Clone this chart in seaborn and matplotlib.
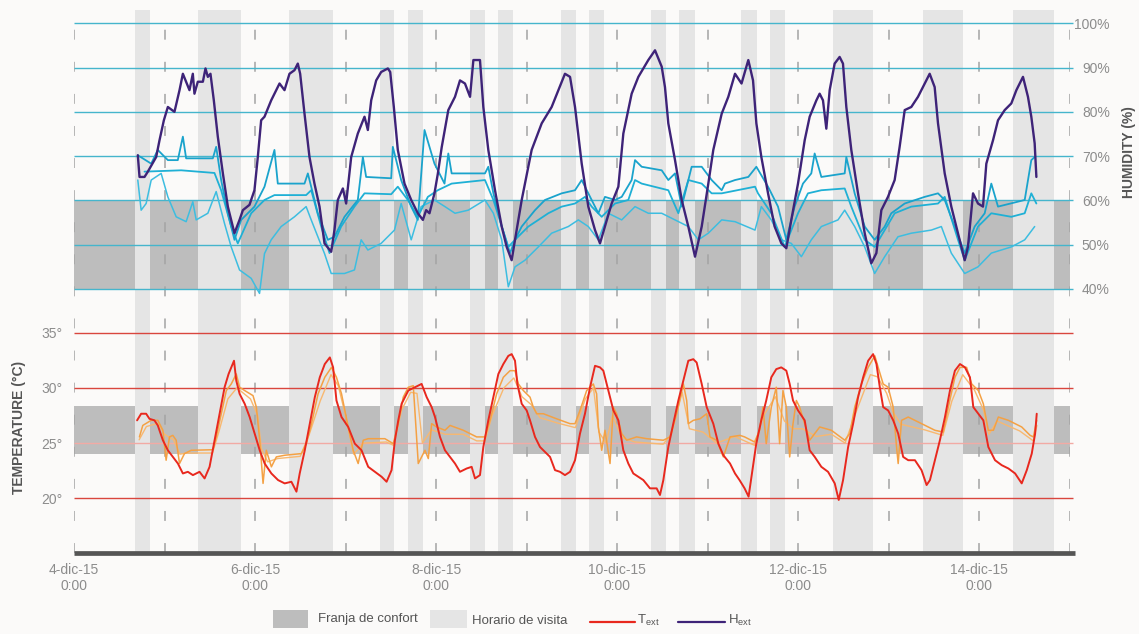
import matplotlib
matplotlib.use("Agg")
import matplotlib.pyplot as plt
import seaborn as sns
from matplotlib.patches import Rectangle
from matplotlib.lines import Line2D

# ---------------- data (x = days after 4-dic-15 0:00) ----------------
day_ticks = [0, 2, 4, 6, 8, 10]
day_tick_labels = ["4-dic-15\n0:00", "6-dic-15\n0:00", "8-dic-15\n0:00",
                   "10-dic-15\n0:00", "12-dic-15\n0:00", "14-dic-15\n0:00"]
day_lines = [0, 1, 2, 3, 4, 5, 6, 7, 8, 9, 10, 11]
temp_ticks = [20, 25, 30, 35]
hum_ticks = [40, 50, 60, 70, 80, 90, 100]

visit_start = [0.674, 1.373, 2.376, 3.381, 3.694, 4.376, 4.688, 5.381, 5.694,
               6.376, 6.688, 7.370, 7.691, 8.383, 9.378, 10.379]
visit_end = [0.840, 1.842, 2.865, 3.539, 3.860, 4.541, 4.854, 5.547, 5.860,
             6.541, 6.862, 7.543, 7.856, 8.832, 9.827, 10.829]
comfort_temp = [24.0, 28.35]
comfort_hum = [40, 60]

hext_t = [0.705,0.724,0.779,0.816,0.908,0.945,0.993,1.037,1.110,1.166,
          1.203,1.276,1.313,1.331,1.368,1.424,1.453,1.479,1.508,1.545,
          1.589,1.645,1.700,1.773,1.829,1.866,1.939,1.994,2.031,2.068,
          2.105,2.179,2.271,2.326,2.381,2.436,2.473,2.499,2.547,2.602,
          2.657,2.713,2.768,2.842,2.878,2.915,2.971,3.007,3.063,3.136,
          3.210,3.247,3.284,3.339,3.394,3.468,3.494,3.534,3.578,3.652,
          3.726,3.799,3.855,3.891,3.928,3.983,4.020,4.063,4.136,4.210,
          4.265,4.320,4.376,4.413,4.486,4.523,4.578,4.652,4.726,4.781,
          4.836,4.873,4.947,5.057,5.168,5.278,5.352,5.425,5.481,5.536,
          5.610,5.683,5.757,5.812,5.867,5.941,6.015,6.070,6.162,6.236,
          6.346,6.420,6.494,6.530,6.567,6.641,6.715,6.788,6.862,6.936,
          7.009,7.064,7.157,7.230,7.304,7.376,7.451,7.503,7.540,7.595,
          7.669,7.742,7.816,7.871,7.926,8.000,8.074,8.129,8.203,8.239,
          8.276,8.313,8.350,8.405,8.460,8.497,8.534,8.589,8.663,8.737,
          8.810,8.866,8.921,8.994,9.068,9.123,9.179,9.252,9.326,9.400,
          9.455,9.510,9.547,9.621,9.694,9.768,9.842,9.878,9.934,9.989,
          10.044,10.081,10.155,10.210,10.284,10.357,10.413,10.486,10.541,10.578,
          10.615,10.634]
hext_v = [70.2,65.3,65.3,66.5,69.8,73.6,78.1,81.1,80.0,84.9,
          88.6,84.9,88.6,84.1,86.8,86.8,89.8,87.9,88.6,82.6,
          74.4,66.1,58.6,52.6,55.6,57.8,59.0,62.3,69.8,78.1,
          78.9,82.6,86.4,84.9,88.6,89.4,90.9,88.6,79.6,69.8,
          63.8,58.6,50.3,48.4,53.3,60.1,62.7,59.3,69.8,75.1,
          78.9,75.9,82.6,87.1,89.0,89.8,89.0,81.1,71.4,63.8,
          60.1,57.1,55.6,57.8,57.1,61.6,66.0,72.0,80.4,83.4,
          87.1,86.4,83.4,91.7,91.7,81.1,71.4,62.3,54.1,49.5,
          46.5,51.1,60.1,71.4,77.4,81.1,84.9,88.6,87.9,81.1,
          68.3,58.6,53.3,50.3,54.1,59.3,63.1,75.1,84.1,87.9,
          91.7,93.9,90.2,85.6,77.4,69.1,60.1,54.1,47.3,54.1,
          63.8,71.4,79.6,83.4,88.6,86.4,91.7,87.1,77.4,69.8,
          61.6,54.1,50.3,49.2,55.6,63.8,73.6,78.9,82.6,84.1,
          82.6,76.2,84.9,90.9,92.4,90.9,81.1,71.4,61.6,52.6,
          45.8,48.1,57.8,60.8,64.6,72.1,80.4,81.1,83.4,86.4,
          88.6,85.6,77.4,66.1,58.6,52.6,46.5,49.5,61.6,59.3,
          58.6,68.3,73.6,78.1,80.4,81.9,84.9,87.9,83.4,78.9,
          72.9,65.3]

c1_t = [0.705,0.853,0.926,1.037,1.147,1.203,1.239,1.534,1.571,1.626,
        1.700,1.773,1.847,1.994,2.105,2.215,2.252,2.547,2.584,2.694,
        2.805,2.878,2.989,3.136,3.192,3.228,3.505,3.523,3.615,3.726,
        3.799,3.873,3.983,4.094,4.136,4.173,4.541,4.578,4.634,4.726,
        4.818,4.873,4.947,5.094,5.204,5.389,5.536,5.610,5.683,5.794,
        5.867,5.978,6.052,6.162,6.199,6.273,6.494,6.567,6.641,6.715,
        6.825,6.936,7.046,7.157,7.193,7.304,7.451,7.540,7.669,7.779,
        7.871,7.963,8.055,8.147,8.184,8.258,8.516,8.534,8.626,8.737,
        8.847,8.958,9.031,9.179,9.400,9.547,9.621,9.731,9.842,9.952,
        10.063,10.136,10.210,10.505,10.578,10.615]
c1_v = [70.2,68.3,71.4,69.1,69.1,74.4,69.5,69.5,72.1,64.6,
        57.1,51.1,55.6,58.6,63.1,71.4,63.8,63.8,66.1,57.1,
        51.1,51.8,56.3,60.1,69.8,65.3,65.0,72.1,64.6,58.6,
        55.6,75.9,68.3,63.8,70.6,66.1,66.1,67.6,61.6,54.1,
        48.1,51.1,54.1,57.8,60.1,61.6,62.3,64.6,61.6,57.1,
        60.8,60.1,60.8,64.6,69.1,67.6,66.8,64.6,66.1,58.6,
        67.6,67.6,64.6,62.3,63.8,64.6,65.3,67.6,63.1,58.6,
        51.1,58.6,63.8,66.1,70.6,65.3,66.1,69.8,61.6,54.1,
        51.1,54.1,57.1,59.3,60.8,61.6,60.1,54.1,48.1,54.1,
        57.1,63.8,58.6,60.1,69.1,69.8]

c2_t = [0.779,1.184,1.552,1.626,1.737,1.810,1.958,2.105,2.215,2.565,
        2.621,2.731,2.823,2.952,3.099,3.210,3.505,3.578,3.689,3.799,
        3.910,4.020,4.173,4.541,4.634,4.799,4.873,5.020,5.131,5.241,
        5.389,5.536,5.646,5.720,5.831,5.978,6.125,6.199,6.273,6.567,
        6.678,6.788,6.936,7.046,7.157,7.525,7.558,7.705,7.853,8.000,
        8.110,8.258,8.516,8.589,8.737,8.847,8.958,9.068,9.252,9.547,
        9.621,9.768,9.842,9.989,10.136,10.357,10.505,10.578,10.634]
c2_v = [66.5,66.8,66.2,62.3,54.1,50.3,57.1,60.1,61.2,61.2,
        62.3,54.1,48.1,54.1,58.6,61.6,61.4,63.1,60.1,56.3,
        60.8,62.3,63.8,64.6,60.1,49.5,51.1,54.1,55.6,57.1,
        58.6,59.3,60.8,58.6,56.3,59.3,60.1,64.6,63.8,62.3,
        57.1,64.6,63.8,61.6,61.6,63.1,61.6,57.1,49.5,57.1,
        61.6,62.3,62.7,58.6,51.1,49.5,53.3,57.1,58.6,59.3,
        60.8,51.1,46.5,54.1,57.1,56.3,57.1,61.6,59.3]

c3_t = [0.705,0.742,0.797,0.853,0.963,1.037,1.129,1.239,1.313,1.350,
        1.479,1.571,1.663,1.737,1.829,1.958,2.050,2.105,2.179,2.289,
        2.436,2.565,2.621,2.768,2.842,2.989,3.099,3.173,3.247,3.394,
        3.541,3.615,3.726,3.836,3.983,4.099,4.210,4.357,4.541,4.634,
        4.726,4.799,4.873,4.983,5.131,5.278,5.462,5.573,5.683,5.794,
        5.904,6.052,6.199,6.346,6.494,6.641,6.788,6.899,7.009,7.157,
        7.304,7.525,7.595,7.705,7.816,7.926,8.037,8.147,8.258,8.442,
        8.516,8.626,8.737,8.847,8.958,9.105,9.252,9.473,9.584,9.694,
        9.842,9.989,10.136,10.357,10.505,10.615]
c3_v = [64.6,57.8,59.3,64.6,66.1,60.8,56.3,55.2,59.7,55.6,
        57.1,62.0,54.8,49.5,44.3,42.4,39.0,48.0,51.1,54.1,
        56.3,58.6,55.6,48.0,43.5,43.5,44.3,51.1,48.8,50.3,
        53.3,59.3,51.1,58.6,60.1,58.6,57.1,57.8,60.1,57.1,
        51.1,40.5,45.0,46.5,49.5,52.6,54.1,55.6,54.1,51.1,
        57.1,55.6,58.6,57.1,57.1,55.6,54.1,51.1,52.6,55.6,
        55.2,53.3,58.6,55.6,51.1,50.3,47.3,51.1,54.1,55.6,
        57.8,54.1,49.5,43.5,47.3,51.8,52.6,53.3,54.1,48.1,
        43.5,45.0,48.1,49.5,51.1,54.1]

text_t = [0.697,0.742,0.797,0.834,0.889,0.926,0.982,1.037,1.092,1.148,
          1.203,1.258,1.314,1.387,1.443,1.498,1.554,1.609,1.664,1.708,
          1.738,1.768,1.793,1.830,1.886,1.941,1.996,2.052,2.107,2.181,
          2.255,2.328,2.402,2.458,2.494,2.550,2.605,2.661,2.716,2.771,
          2.827,2.863,2.900,2.956,3.030,3.103,3.177,3.251,3.325,3.399,
          3.454,3.509,3.546,3.583,3.620,3.694,3.768,3.841,3.897,3.952,
          3.989,4.044,4.099,4.155,4.210,4.265,4.339,4.394,4.431,4.486,
          4.523,4.578,4.634,4.689,4.744,4.799,4.836,4.873,4.899,4.947,
          5.002,5.039,5.094,5.149,5.204,5.260,5.315,5.370,5.425,5.481,
          5.536,5.591,5.646,5.702,5.757,5.812,5.849,5.904,5.960,6.015,
          6.070,6.125,6.180,6.236,6.291,6.365,6.438,6.475,6.512,6.567,
          6.622,6.678,6.733,6.788,6.843,6.880,6.936,6.991,7.064,7.120,
          7.175,7.249,7.304,7.354,7.410,7.454,7.502,7.539,7.594,7.649,
          7.705,7.760,7.815,7.871,7.908,7.945,8.000,8.074,8.129,8.185,
          8.258,8.332,8.406,8.450,8.498,8.554,8.609,8.664,8.720,8.775,
          8.830,8.867,8.904,8.941,8.996,9.052,9.107,9.162,9.218,9.292,
          9.365,9.421,9.458,9.513,9.568,9.624,9.679,9.734,9.790,9.845,
          9.900,9.937,9.993,10.048,10.103,10.177,10.251,10.325,10.399,10.472,
          10.528,10.583,10.620,10.638]
text_v = [27.06,27.66,27.66,27.2,27.06,26.6,25.26,24.35,23.75,23.15,
          22.25,22.4,22.1,22.4,21.8,22.85,25.26,27.66,30.06,31.26,
          31.86,32.46,30.66,29.46,28.56,27.36,25.86,24.35,23.15,22.25,
          21.65,21.35,21.5,20.6,22.25,24.35,26.76,29.16,30.96,32.16,
          32.76,31.86,28.86,27.36,26.46,24.95,24.35,22.85,22.4,21.95,
          21.5,22.55,25.26,27.06,28.56,29.76,30.06,30.36,29.16,28.26,
          27.36,25.56,24.35,23.75,23.15,22.4,22.7,22.85,21.8,22.1,
          24.65,27.06,29.16,31.26,32.16,32.9,33.06,32.46,30.36,28.56,
          27.96,27.06,25.56,24.65,24.2,23.75,22.55,22.4,22.1,22.4,
          23.45,25.86,27.66,30.06,32.0,31.86,31.56,29.76,27.96,27.06,
          24.35,23.15,22.25,21.95,21.65,20.9,20.9,20.3,21.65,24.65,
          26.76,28.86,30.66,32.46,32.6,32.3,30.36,28.26,26.76,24.95,
          23.9,23.15,22.25,21.65,20.9,20.15,22.85,24.95,27.06,28.86,
          30.96,31.7,31.86,31.56,30.36,28.86,27.96,27.06,24.35,23.75,
          22.85,22.4,21.35,19.85,21.65,24.65,26.76,29.16,30.96,32.46,
          33.06,32.16,30.06,28.26,27.96,27.06,25.86,23.75,23.45,23.45,
          22.55,21.2,21.65,23.45,25.26,27.36,29.76,31.56,32.16,31.86,
          30.96,28.26,27.66,27.06,24.65,23.45,23.0,22.7,22.25,21.35,
          22.55,24.05,25.86,27.66]

o1_t = [0.723,0.760,0.852,0.926,0.982,1.018,1.055,1.092,1.129,1.166,
        1.221,1.295,1.535,1.572,1.627,1.683,1.738,1.793,1.830,1.886,
        1.978,2.015,2.052,2.089,2.125,2.181,2.236,2.328,2.513,2.568,
        2.624,2.697,2.771,2.845,2.900,2.956,2.993,3.030,3.085,3.140,
        3.196,3.251,3.435,3.528,3.583,3.638,3.694,3.749,3.804,3.878,
        3.915,3.952,4.007,4.099,4.155,4.302,4.449,4.541,4.597,4.670,
        4.744,4.818,4.873,4.910,4.965,5.039,5.075,5.112,5.186,5.333,
        5.481,5.536,5.591,5.665,5.738,5.775,5.794,5.831,5.867,5.923,
        5.959,5.996,6.052,6.107,6.217,6.328,6.512,6.586,6.659,6.733,
        6.770,6.788,6.843,6.917,6.991,7.028,7.101,7.175,7.249,7.359,
        7.410,7.520,7.576,7.613,7.649,7.705,7.760,7.797,7.834,7.871,
        7.908,7.945,7.982,8.018,8.074,8.129,8.185,8.240,8.369,8.517,
        8.572,8.627,8.701,8.775,8.849,8.886,8.941,8.996,9.052,9.089,
        9.107,9.144,9.218,9.365,9.513,9.605,9.661,9.734,9.790,9.863,
        9.919,9.993,10.048,10.103,10.159,10.214,10.325,10.472,10.565,10.601,
        10.638]
o1_v = [25.56,26.6,27.06,27.06,26.16,23.45,25.56,25.7,25.26,23.15,
        24.05,24.35,24.4,25.56,27.66,29.76,30.36,31.26,30.06,29.76,
        29.3,28.26,25.26,21.35,24.35,22.85,23.75,23.9,24.05,24.95,
        26.76,29.46,30.96,31.86,30.96,29.46,27.96,26.46,24.35,23.15,
        25.26,25.4,25.4,24.95,26.76,29.16,30.06,30.2,23.15,24.35,
        23.6,26.76,26.46,26.16,26.6,26.16,25.56,25.56,27.06,29.46,
        30.96,31.56,31.56,30.36,29.76,29.16,28.26,27.66,27.66,27.2,
        26.76,26.76,27.96,29.76,30.36,29.46,26.46,24.35,26.16,23.15,
        28.26,27.66,25.86,25.26,25.56,25.4,25.26,25.56,27.66,30.36,
        28.86,26.76,27.06,27.2,27.66,25.56,25.26,23.75,25.56,25.7,
        25.56,25.1,26.16,28.26,24.95,28.26,30.06,24.95,29.76,28.26,
        23.75,26.76,28.86,28.26,26.76,25.26,25.86,26.46,26.16,25.26,
        25.86,28.26,30.36,31.86,32.9,31.86,30.36,30.06,28.26,24.65,
        23.15,27.06,27.36,26.76,26.16,26.0,28.26,30.96,31.86,31.86,
        30.36,29.76,28.56,26.16,26.16,27.36,27.06,26.46,25.7,25.56,
        27.06]

o2_t = [0.72,0.80,0.93,1.00,1.10,1.17,1.25,1.53,1.60,1.70,
        1.80,1.95,2.03,2.07,2.14,2.25,2.50,2.60,2.72,2.84,
        2.92,3.00,3.09,3.20,3.45,3.53,3.62,3.72,3.79,3.85,
        3.95,4.10,4.30,4.45,4.54,4.62,4.75,4.86,4.95,5.05,
        5.15,5.35,5.54,5.65,5.74,5.80,5.88,5.95,6.05,6.20,
        6.51,6.60,6.72,6.80,6.95,7.10,7.30,7.52,7.62,7.75,
        7.85,7.95,8.05,8.20,8.37,8.52,8.65,8.80,8.88,8.98,
        9.05,9.14,9.40,9.60,9.70,9.82,9.95,10.05,10.11,10.20,
        10.45,10.60,10.64]
o2_v = [25.3,26.5,26.8,25.8,25.3,24.0,24.1,24.1,26.0,29.0,
        30.0,29.0,27.5,24.5,23.3,23.6,23.8,25.8,28.8,31.2,
        30.2,27.5,24.0,25.0,25.1,24.8,28.0,29.6,29.5,25.0,
        26.2,25.8,25.8,25.2,25.2,27.5,30.0,30.9,29.2,28.5,
        27.3,26.8,26.4,29.0,30.0,26.0,25.0,27.5,25.5,25.1,
        24.9,25.8,29.6,26.3,26.0,25.0,25.6,24.8,27.5,29.2,
        27.0,26.3,26.3,25.6,25.8,25.0,28.0,31.2,31.0,29.5,
        27.8,26.7,26.2,25.7,28.8,31.2,29.8,28.0,25.8,27.0,
        26.1,25.2,26.6]

# ---------------- style ----------------
BG = "#fbfaf9"
COMFORT = "#bdbdbd"
VISIT = "#e5e5e5"
HGRID = "#45b5cc"
TGRID = "#d9463e"
TGRID25 = "#f2aaa4"
HEXT = "#3e2378"
RED = "#e8281e"
TICKC = "#8c8c8c"

sns.set_style("white")
plt.rcParams["font.family"] = ["Liberation Sans", "DejaVu Sans"]
plt.rcParams["mathtext.fontset"] = "custom"
plt.rcParams["mathtext.rm"] = "Liberation Sans"
plt.rcParams["mathtext.it"] = "Liberation Sans:italic"

W, H = 1139, 634
fig = plt.figure(figsize=(W / 100, H / 100), dpi=100, facecolor=BG)
ax = fig.add_axes([74 / W, (H - 553) / H, (1069.5 - 74) / W, (553 - 10) / H])
ax.set_facecolor(BG)
ax2 = ax.twinx()

XMIN, XMAX = 0, 11
T_LO, T_HI = 15.045, 64.23
H_LO, H_HI = -19.62, 103.0
ax.set_xlim(XMIN, XMAX)
ax.set_ylim(T_LO, T_HI)
ax2.set_ylim(H_LO, H_HI)

# comfort bands (below visit bands)
ax.fill_between([XMIN, XMAX], comfort_temp[0], comfort_temp[1], color=COMFORT, lw=0, zorder=0.3)
ax.fill_between([XMIN, XMAX], comfort_hum[0], comfort_hum[1], color=COMFORT, lw=0, zorder=0.3,
                transform=ax2.transData)
# visiting hours
for s, e in zip(visit_start, visit_end):
    ax.axvspan(s, e, color=VISIT, lw=0, zorder=0.5)

# dashed day separators
for d in day_lines:
    ax.axvline(d, color="#a3a3a3", lw=1.1, ls=(0, (6.5, 14.5)), zorder=1)

# temperature grid lines
for v in temp_ticks:
    ax.hlines(v, XMIN, 11.04, color=TGRID25 if v == 25 else TGRID, lw=1.0, zorder=1.2, clip_on=False)
# humidity grid lines
ax2.hlines(hum_ticks, XMIN, 11.04, color=HGRID, lw=1.0, zorder=1, clip_on=False)

# series
sns.lineplot(x=o2_t, y=o2_v, ax=ax, color="#f8b870", lw=1.0, estimator=None, sort=False, zorder=2)
sns.lineplot(x=o1_t, y=o1_v, ax=ax, color="#f4a144", lw=1.1, estimator=None, sort=False, zorder=2.1)
sns.lineplot(x=text_t, y=text_v, ax=ax, color=RED, lw=1.4, estimator=None, sort=False, zorder=2.2)

sns.lineplot(x=c3_t, y=c3_v, ax=ax2, color="#3dbde0", lw=1.1, estimator=None, sort=False, zorder=2)
sns.lineplot(x=c2_t, y=c2_v, ax=ax2, color="#1fb0d5", lw=1.3, estimator=None, sort=False, zorder=2.1)
sns.lineplot(x=c1_t, y=c1_v, ax=ax2, color="#1aa3cc", lw=1.3, estimator=None, sort=False, zorder=2.2)
sns.lineplot(x=hext_t, y=hext_v, ax=ax2, color=HEXT, lw=1.7, estimator=None, sort=False, zorder=2.5)

ax.set_xlim(XMIN, XMAX)
ax.set_ylim(T_LO, T_HI)
ax2.set_ylim(H_LO, H_HI)

# bottom axis line
ax.hlines(T_LO, XMIN, 11.06, color="#555555", lw=3.4, zorder=3, clip_on=False)

for a in (ax, ax2):
    for sp in a.spines.values():
        sp.set_visible(False)
    a.set_xlabel("")
    a.set_ylabel("")

ax.set_xticks(day_ticks)
ax.set_xticklabels(day_tick_labels)
ax.tick_params(axis="x", length=0, pad=7, labelsize=10, labelcolor=TICKC)
ax.set_yticks(temp_ticks)
ax.set_yticklabels([f"{v}°" for v in temp_ticks])
ax.tick_params(axis="y", length=0, pad=8.5, labelsize=10, labelcolor=TICKC)
ax2.set_yticks(hum_ticks)
ax2.set_yticklabels([f"{v}%" for v in hum_ticks])
ax2.tick_params(axis="y", length=0, pad=29, labelsize=10, labelcolor=TICKC)
for lab in ax2.get_yticklabels():
    lab.set_horizontalalignment("right")

fig.text(19 / W, 1 - 427 / H, "TEMPERATURE (°C)", rotation=90, ha="center", va="center",
         fontsize=10, fontweight="bold", color="#555555")
fig.text(1129 / W, 1 - 152 / H, "HUMIDITY (%)", rotation=90, ha="center", va="center",
         fontsize=10, fontweight="bold", color="#555555")

# legend
yc = 1 - 619 / H
fig.add_artist(Rectangle((273 / W, 1 - 628 / H), 35 / W, 18 / H, transform=fig.transFigure,
                         facecolor=COMFORT, edgecolor="none"))
fig.text(318 / W, yc, "Franja de confort", ha="left", va="center", fontsize=9.5, color="#555555")
fig.add_artist(Rectangle((430 / W, 1 - 628 / H), 37 / W, 18 / H, transform=fig.transFigure,
                         facecolor=VISIT, edgecolor="none"))
fig.text(472 / W, yc - 2 / H, "Horario de visita", ha="left", va="center", fontsize=9.5, color="#555555")
fig.add_artist(Line2D([590 / W, 635 / W], [1 - 621.5 / H] * 2, transform=fig.transFigure,
                      color=RED, lw=1.6))
fig.text(637 / W, yc - 1 / H, r"T$_{\mathrm{ext}}$", ha="left", va="center", fontsize=9.5, color="#555555")
fig.add_artist(Line2D([678 / W, 725 / W], [1 - 621.5 / H] * 2, transform=fig.transFigure,
                      color=HEXT, lw=1.6))
fig.text(728 / W, yc - 1 / H, r"H$_{\mathrm{ext}}$", ha="left", va="center", fontsize=9.5, color="#555555")

fig.savefig("out.png", dpi=100, facecolor=BG)
